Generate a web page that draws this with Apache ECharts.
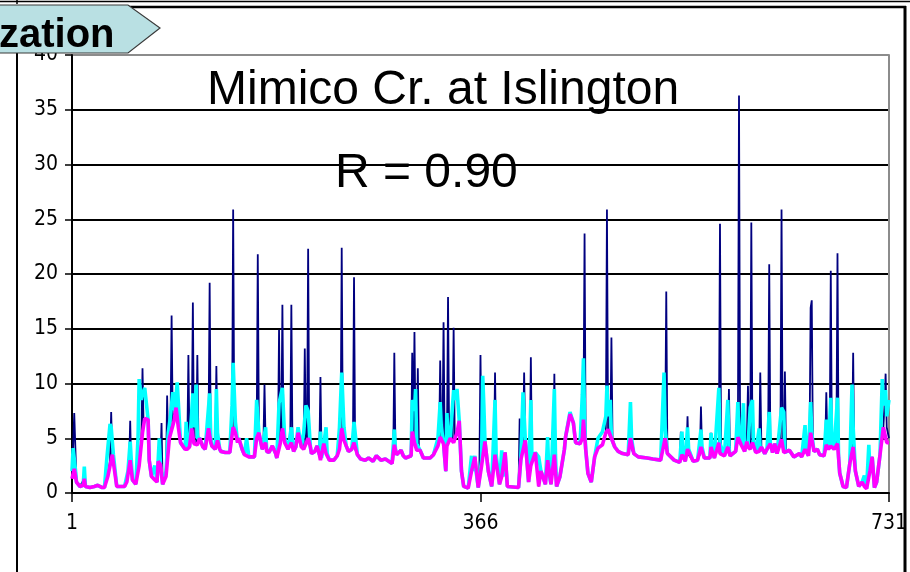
<!DOCTYPE html>
<html>
<head>
<meta charset="utf-8">
<script src="https://cdn.jsdelivr.net/npm/echarts@6/dist/echarts.min.js"></script>
<style>
  html, body { margin: 0; padding: 0; background: #fff; }
  #chart { width: 910px; height: 572px; }
</style>
</head>
<body>
<div id="chart"></div>
<script>
// Daily flow, Mimico Creek at Islington: [day, value]
const observedQ = [[1,1.3],[3,7.3],[5,1.0],[8,0.6],[12,1.3],[13,0.6],[17,0.5],[24,0.7],[30,0.5],[33,1.5],[35,3.0],[36,7.4],[37,3.5],[41,0.6],[48,0.6],[50,1.0],[52,2.5],[53,6.6],[54,2.0],[55,1.2],[58,0.8],[61,2.5],[63,5.0],[64,11.4],[65,6.0],[66,6.8],[69,6.7],[70,3.0],[72,1.5],[75,1.2],[77,1.0],[78,2.9],[80,2.6],[81,6.4],[82,0.8],[85,1.5],[86,8.9],[87,4.0],[88,5.0],[89,6.0],[90,16.2],[91,6.5],[92,6.5],[94,7.8],[96,6.0],[98,4.6],[102,4.0],[104,4.0],[105,12.6],[106,4.2],[108,5.9],[109,17.4],[110,4.5],[112,4.5],[113,12.6],[114,4.6],[115,5.0],[118,4.2],[120,4.0],[123,5.9],[124,19.2],[125,4.6],[126,4.3],[129,4.0],[130,11.6],[131,4.8],[133,4.0],[138,3.7],[142,3.7],[144,5.5],[145,25.9],[146,6.0],[147,5.5],[149,4.6],[150,5.0],[153,4.0],[155,3.5],[159,3.3],[164,3.3],[166,5.0],[167,21.8],[168,5.5],[171,4.0],[172,4.3],[173,9.9],[174,4.6],[175,3.8],[177,3.7],[180,4.3],[183,3.6],[184,3.2],[185,4.0],[186,14.9],[187,4.5],[188,5.0],[189,17.2],[190,5.0],[191,4.6],[194,4.0],[196,4.4],[197,17.2],[198,4.2],[199,3.8],[201,4.2],[203,5.5],[206,4.2],[208,4.0],[209,13.2],[210,4.5],[211,4.8],[212,22.3],[213,4.6],[214,4.2],[215,3.6],[218,3.8],[220,4.3],[222,3.5],[223,10.6],[224,3.2],[226,4.5],[228,3.6],[231,3.0],[235,3.0],[238,3.4],[240,4.0],[241,5.0],[242,22.4],[243,5.0],[244,4.8],[246,4.3],[248,3.8],[251,4.0],[252,4.3],[253,19.7],[254,4.0],[256,3.5],[259,3.1],[263,3.0],[266,3.2],[270,2.9],[273,3.4],[277,3.0],[281,3.1],[284,2.9],[287,2.7],[288,3.0],[289,12.8],[290,4.0],[291,3.5],[295,3.9],[297,3.4],[299,3.2],[304,3.4],[305,12.8],[306,5.0],[307,14.7],[308,5.0],[309,3.9],[310,11.4],[311,4.0],[312,3.9],[315,3.2],[321,3.2],[324,3.5],[328,4.3],[329,4.6],[330,12.1],[331,5.0],[332,4.8],[333,15.6],[334,4.5],[335,2.0],[336,4.3],[337,17.9],[338,5.0],[339,5.0],[341,4.8],[342,15.1],[343,5.0],[345,5.5],[347,6.6],[349,2.0],[351,0.6],[355,0.45],[358,2.0],[361,3.3],[364,0.5],[365,2.0],[366,12.6],[367,3.0],[370,4.7],[373,2.0],[376,0.6],[378,3.0],[379,11.0],[380,3.5],[383,0.8],[385,1.5],[388,3.7],[390,0.6],[400,0.5],[401,6.8],[402,3.0],[404,4.5],[405,11.0],[406,4.8],[409,1.0],[410,2.5],[411,12.4],[412,3.0],[415,3.7],[418,0.6],[420,2.0],[424,0.8],[426,3.0],[429,0.8],[431,3.0],[432,10.9],[433,3.5],[434,0.6],[437,1.5],[441,4.0],[442,5.1],[446,7.2],[449,6.4],[451,4.6],[455,4.5],[457,5.0],[458,6.7],[459,23.7],[460,4.0],[462,1.8],[465,1.0],[468,3.3],[471,4.1],[475,4.4],[478,5.5],[479,25.9],[480,5.8],[482,5.0],[483,14.2],[484,5.0],[486,4.2],[489,3.8],[493,3.6],[498,3.5],[499,4.5],[500,8.3],[501,4.0],[503,3.6],[507,3.3],[515,3.2],[520,3.1],[527,3.0],[531,5.0],[532,18.4],[533,3.6],[539,3.0],[544,2.8],[545,5.6],[546,3.5],[549,2.9],[550,3.5],[551,7.0],[552,3.5],[556,2.9],[560,3.0],[562,3.5],[563,7.9],[564,3.8],[566,3.2],[571,3.2],[572,5.5],[573,3.8],[575,3.2],[579,4.6],[580,24.6],[581,3.6],[584,3.4],[587,4.2],[588,9.5],[589,3.4],[594,3.8],[596,5.1],[597,36.3],[598,4.6],[599,4.4],[602,3.8],[604,4.7],[605,9.8],[606,4.2],[607,4.0],[608,24.7],[609,4.6],[612,3.7],[615,3.8],[616,11.0],[617,4.2],[620,3.6],[622,4.0],[623,4.5],[624,20.9],[625,4.5],[627,3.7],[629,4.5],[631,3.6],[634,4.5],[635,25.9],[636,4.5],[637,3.7],[638,11.1],[639,3.8],[642,3.9],[646,3.3],[651,3.6],[653,3.3],[656,4.0],[659,3.4],[660,4.5],[661,16.9],[662,17.6],[663,4.5],[664,3.8],[667,4.0],[669,3.5],[673,3.4],[674,4.0],[675,9.2],[676,4.4],[677,4.0],[678,4.2],[679,20.3],[680,4.3],[682,4.0],[684,4.3],[685,21.9],[686,3.2],[687,1.8],[690,0.6],[693,0.5],[696,2.7],[698,4.0],[699,12.8],[700,3.0],[701,2.0],[704,0.6],[707,1.0],[709,0.6],[711,0.4],[714,2.0],[716,3.3],[718,0.5],[720,1.0],[723,3.5],[726,6.0],[727,8.0],[728,10.9],[729,6.0],[731,5.0]];

const modelQ1 = [[1,2.0],[2,4.1],[4,2.2],[5,1.0],[8,0.6],[11,0.7],[12,2.4],[13,0.6],[17,0.5],[21,0.6],[24,0.7],[28,0.5],[30,0.5],[32,3.0],[35,6.3],[36,6.0],[38,3.5],[41,0.6],[48,0.6],[51,2.0],[53,4.7],[55,1.2],[58,0.8],[60,5.0],[61,10.4],[63,8.5],[64,9.0],[66,9.6],[69,6.7],[70,3.0],[72,1.5],[75,2.5],[77,1.0],[79,5.0],[80,2.6],[82,0.8],[85,2.0],[87,5.5],[89,7.0],[91,9.2],[93,7.5],[95,10.1],[97,6.5],[98,4.6],[102,4.0],[103,6.5],[104,4.5],[106,4.2],[109,9.1],[110,6.0],[112,9.9],[113,5.0],[115,5.0],[118,4.2],[120,4.0],[124,9.1],[125,5.0],[126,4.3],[129,4.0],[130,9.5],[131,5.5],[133,4.0],[134,3.8],[138,3.7],[142,3.7],[144,8.0],[145,11.9],[147,6.5],[149,4.6],[150,5.0],[153,4.0],[155,3.5],[157,5.0],[159,3.3],[164,3.3],[166,8.5],[168,5.5],[171,4.0],[174,6.0],[175,3.8],[177,3.7],[180,4.3],[183,3.6],[184,3.2],[186,8.2],[189,9.6],[191,5.0],[194,4.0],[197,6.0],[199,3.8],[201,4.2],[203,6.0],[206,4.2],[208,5.5],[210,8.0],[212,7.5],[214,4.2],[215,3.6],[218,3.8],[220,4.3],[222,3.5],[223,5.6],[224,3.2],[226,4.5],[228,6.0],[229,3.6],[231,3.0],[235,3.0],[238,3.4],[240,6.0],[242,11.0],[244,6.0],[246,4.3],[248,3.8],[251,4.0],[253,6.5],[256,3.5],[259,3.1],[263,3.0],[266,3.2],[270,2.9],[273,3.4],[277,3.0],[281,3.1],[284,2.9],[287,2.7],[289,5.8],[290,4.0],[291,3.5],[295,3.9],[297,3.4],[299,3.2],[304,3.4],[305,8.5],[307,7.5],[308,9.5],[309,4.5],[312,3.9],[315,3.2],[321,3.2],[324,3.5],[328,5.0],[330,8.3],[331,6.0],[333,4.5],[335,2.0],[336,7.3],[337,5.0],[339,5.0],[342,9.4],[344,8.5],[345,9.5],[347,6.6],[349,2.0],[351,0.6],[355,0.45],[358,3.4],[359,2.0],[361,3.4],[362,2.0],[364,0.5],[367,3.0],[368,10.7],[369,8.0],[370,4.7],[373,2.0],[376,0.6],[379,8.5],[380,3.5],[383,0.8],[385,3.9],[386,1.5],[388,3.7],[390,0.6],[400,0.5],[402,3.0],[404,9.2],[406,5.0],[409,1.0],[411,8.5],[412,3.0],[415,3.7],[418,3.3],[420,2.0],[424,0.8],[426,5.1],[427,2.0],[429,0.8],[432,9.5],[433,3.5],[434,0.6],[437,1.5],[441,4.0],[442,5.1],[446,7.4],[449,6.4],[451,4.6],[455,4.5],[457,9.0],[458,12.3],[459,6.7],[460,4.0],[462,1.8],[465,1.0],[468,3.3],[471,5.0],[475,5.6],[478,7.0],[479,9.8],[480,7.0],[482,8.5],[483,5.0],[486,4.2],[489,3.8],[493,3.6],[498,3.5],[500,8.3],[501,5.0],[503,3.6],[507,3.3],[515,3.2],[520,3.1],[527,3.0],[530,11.0],[531,6.0],[533,3.6],[539,3.0],[544,2.8],[546,5.6],[547,3.5],[549,2.9],[551,6.0],[552,4.0],[556,2.9],[560,3.0],[563,5.8],[564,4.2],[566,3.2],[571,3.2],[572,5.5],[573,4.2],[575,3.2],[579,9.6],[580,4.5],[584,3.4],[587,8.5],[588,4.2],[589,3.4],[594,3.8],[596,8.3],[597,5.1],[599,4.4],[601,8.2],[602,3.8],[604,4.7],[605,4.2],[607,7.8],[609,8.5],[610,4.6],[612,3.7],[615,5.9],[616,3.8],[617,4.2],[620,3.6],[622,4.0],[624,7.4],[625,4.5],[627,3.7],[629,4.5],[631,3.6],[635,7.8],[637,7.4],[638,3.7],[642,3.9],[646,3.3],[651,3.6],[653,3.3],[656,6.2],[657,4.0],[659,3.4],[661,8.3],[662,5.5],[664,3.8],[667,4.0],[669,3.5],[673,3.4],[675,6.7],[676,4.4],[677,4.0],[679,8.7],[680,4.3],[682,4.0],[685,8.7],[686,3.2],[687,1.8],[690,0.6],[693,0.5],[696,2.7],[698,9.9],[699,6.0],[701,2.0],[704,0.6],[707,1.0],[709,1.6],[711,0.4],[713,4.4],[714,2.0],[716,3.3],[718,0.5],[720,1.0],[723,3.5],[725,10.4],[726,8.0],[728,9.4],[729,7.0],[731,8.5]];

const modelQ2 = [[1,1.3],[3,2.2],[5,1.0],[8,0.6],[11,0.7],[12,1.3],[13,0.6],[17,0.5],[21,0.6],[24,0.7],[28,0.5],[30,0.5],[33,1.5],[37,3.5],[41,0.6],[48,0.6],[50,1.0],[53,3.0],[55,1.2],[58,0.8],[61,2.5],[64,5.5],[66,6.8],[69,6.7],[70,3.0],[72,1.5],[75,1.2],[77,1.0],[78,2.9],[80,2.6],[82,0.8],[85,1.5],[88,5.0],[92,6.5],[94,7.8],[96,6.0],[98,4.6],[102,4.0],[104,4.0],[106,4.2],[108,5.9],[110,4.5],[113,4.4],[115,5.0],[118,4.2],[120,4.0],[123,5.9],[125,4.6],[126,4.3],[129,4.0],[131,4.8],[133,4.0],[134,3.8],[138,3.7],[142,3.7],[145,6.0],[147,5.5],[149,4.6],[150,5.0],[153,4.0],[155,3.5],[159,3.3],[164,3.3],[166,5.0],[168,5.5],[171,4.0],[174,4.6],[175,3.8],[177,3.7],[180,4.3],[183,3.6],[184,3.2],[187,4.5],[189,5.9],[191,4.6],[194,4.0],[197,4.6],[199,3.8],[201,4.2],[203,5.5],[206,4.2],[208,4.0],[212,5.0],[214,4.2],[215,3.6],[218,3.8],[220,4.3],[222,3.5],[223,3.0],[226,4.5],[228,3.6],[231,3.0],[235,3.0],[238,3.4],[240,4.0],[242,5.9],[244,4.8],[246,4.3],[248,3.8],[251,4.0],[253,4.6],[256,3.5],[259,3.1],[263,3.0],[266,3.2],[270,2.9],[273,3.4],[277,3.0],[281,3.1],[284,2.9],[287,2.7],[289,4.4],[291,3.5],[295,3.9],[297,3.4],[299,3.2],[304,3.4],[305,5.6],[307,4.6],[309,3.9],[312,3.9],[315,3.2],[321,3.2],[324,3.5],[328,4.3],[330,5.1],[333,4.5],[335,2.0],[336,4.3],[339,5.0],[342,4.6],[345,5.5],[347,6.6],[349,2.0],[351,0.6],[355,0.45],[358,2.0],[361,3.3],[364,0.5],[367,2.5],[370,4.7],[373,2.0],[376,0.6],[379,3.5],[383,0.8],[385,1.5],[388,3.7],[390,0.6],[400,0.5],[402,3.0],[406,4.8],[409,1.0],[411,2.5],[415,3.7],[418,0.6],[420,2.0],[424,0.8],[426,3.0],[429,0.8],[432,3.5],[434,0.6],[437,1.5],[441,4.0],[442,5.1],[446,7.2],[449,6.4],[451,4.6],[455,4.5],[457,5.0],[458,6.7],[460,4.0],[462,1.8],[465,1.0],[468,3.3],[471,4.1],[475,4.4],[478,5.5],[480,5.8],[483,5.0],[486,4.2],[489,3.8],[493,3.6],[498,3.5],[500,5.0],[503,3.6],[507,3.3],[515,3.2],[520,3.1],[527,3.0],[531,5.0],[533,3.6],[539,3.0],[544,2.8],[546,3.5],[549,2.9],[551,4.0],[556,2.9],[560,3.0],[563,4.2],[566,3.2],[571,3.2],[572,4.2],[575,3.2],[579,4.6],[580,3.6],[584,3.4],[587,4.2],[589,3.4],[594,3.8],[596,5.1],[599,4.4],[602,3.8],[604,4.7],[605,4.2],[607,4.0],[609,4.6],[612,3.7],[615,3.8],[617,4.2],[620,3.6],[622,4.0],[625,4.5],[627,3.7],[629,4.5],[631,3.6],[635,4.9],[637,3.7],[642,3.9],[646,3.3],[651,3.6],[653,3.3],[656,4.0],[659,3.4],[661,5.5],[664,3.8],[667,4.0],[669,3.5],[673,3.4],[675,4.4],[677,4.0],[679,4.3],[682,4.0],[685,4.5],[686,3.2],[687,1.8],[690,0.6],[693,0.5],[696,2.7],[699,4.2],[701,2.0],[704,0.6],[707,1.0],[709,0.6],[711,0.4],[714,2.0],[716,3.3],[718,0.5],[720,1.0],[723,3.5],[726,6.0],[729,4.6],[731,4.6]];

const dayTicks = [1, 366, 731];
const yTicks = [0, 5, 10, 15, 20, 25, 30, 35, 40];
const titleText = 'Mimico Cr. at Islington';
const statText = 'R = 0.90';
const bannerText = 'zation';

// x axis runs on a zero-based day index so the 365-day tick interval starts at 0
const toIndex = arr => arr.map(p => [p[0] - dayTicks[0], p[1]]);

const labelFont = "'Liberation Sans Narrow', 'Arial Narrow', 'DejaVu Sans Condensed', 'Liberation Sans', sans-serif";

const chart = echarts.init(document.getElementById('chart'), null, { renderer: 'canvas' });

const gridColors = yTicks.map((t, i) => i === yTicks.length - 1 ? '#8c8c8c' : '#000000');

chart.setOption({
  animation: false,
  backgroundColor: '#ffffff',
  grid: { left: 72, right: 18, top: 55, bottom: 79, containLabel: false },
  xAxis: {
    type: 'value',
    min: 0,
    max: dayTicks[2] - dayTicks[0],
    interval: dayTicks[1] - dayTicks[0],
    axisLine: { show: true, onZero: false, lineStyle: { color: '#000', width: 2 } },
    axisTick: { show: true, length: 9, lineStyle: { color: '#000', width: 1.5 } },
    axisLabel: {
      show: true, margin: 20, color: '#000', fontSize: 21, fontFamily: labelFont,
      formatter: v => String(v + dayTicks[0])
    },
    splitLine: { show: false }
  },
  yAxis: [{
    type: 'value',
    min: yTicks[0],
    max: yTicks[yTicks.length - 1],
    interval: yTicks[1] - yTicks[0],
    axisLine: { show: true, lineStyle: { color: '#000', width: 2 } },
    axisTick: { show: true, length: 7, lineStyle: { color: '#000', width: 1.5 } },
    axisLabel: { show: true, margin: 14, color: '#000', fontSize: 21, fontFamily: labelFont },
    splitLine: { show: true, lineStyle: { color: gridColors, width: 2.2 } }
  }, {
    type: 'value',
    position: 'right',
    min: yTicks[0],
    max: yTicks[yTicks.length - 1],
    axisLine: { show: true, lineStyle: { color: '#8c8c8c', width: 2 } },
    axisTick: { show: false },
    axisLabel: { show: false },
    splitLine: { show: false }
  }],
  series: [
    {
      name: 'Observed', type: 'line', data: toIndex(observedQ), showSymbol: false,
      lineStyle: { color: '#000080', width: 1.8 }, z: 2
    },
    {
      name: 'Model 1', type: 'line', data: toIndex(modelQ1), showSymbol: false,
      lineStyle: { color: '#00ffff', width: 3.6 }, z: 3
    },
    {
      name: 'Model 2', type: 'line', data: toIndex(modelQ2), showSymbol: false,
      lineStyle: { color: '#ff00ff', width: 3.6 }, z: 4
    }
  ],
  graphic: [
    // slide frame
    { type: 'line', z: 10, shape: { x1: 0, y1: 1.5, x2: 910, y2: 1.5 }, style: { stroke: '#000', lineWidth: 1.5 } },
    { type: 'line', z: 10, shape: { x1: 17, y1: 0, x2: 17, y2: 4 }, style: { stroke: '#000', lineWidth: 1.5 } },
    { type: 'line', z: 10, shape: { x1: 120, y1: 7, x2: 906, y2: 7 }, style: { stroke: '#000', lineWidth: 2.5 } },
    { type: 'line', z: 10, shape: { x1: 905, y1: 6, x2: 905, y2: 572 }, style: { stroke: '#000', lineWidth: 3 } },
    { type: 'line', z: 10, shape: { x1: 17, y1: 53, x2: 17, y2: 572 }, style: { stroke: '#000', lineWidth: 2 } },
    // banner tab
    {
      type: 'polygon', z: 20,
      shape: { points: [[-2, 5], [128, 5], [160, 28], [128, 53], [-2, 53]] },
      style: { fill: '#b9e0e3', stroke: '#3a3a3a', lineWidth: 1.2 }
    },
    {
      type: 'text', z: 21, left: -1, top: 16,
      style: { text: bannerText, font: "bold 40px 'Liberation Sans', Arial, sans-serif", fill: '#000' }
    },
    // chart captions
    {
      type: 'text', z: 12, left: 207, top: 67,
      style: { text: titleText, font: "48px 'Liberation Sans', Arial, sans-serif", fill: '#000' }
    },
    {
      type: 'text', z: 12, left: 335, top: 150,
      style: { text: statText, font: "48px 'Liberation Sans', Arial, sans-serif", fill: '#000' }
    }
  ]
});
</script>
</body>
</html>
